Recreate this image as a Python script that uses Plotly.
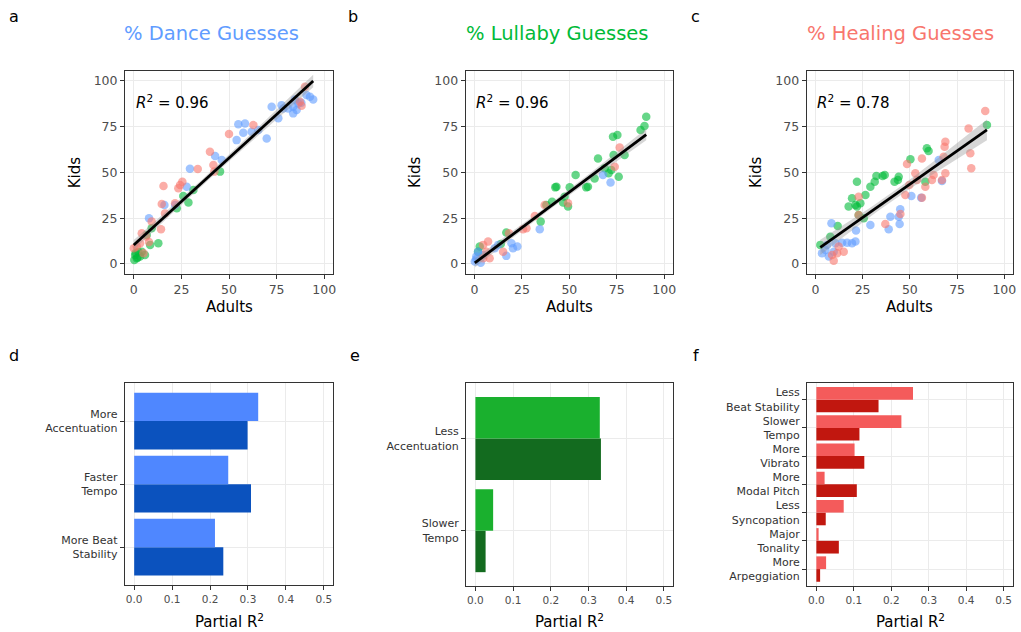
import numpy as np
import plotly.graph_objects as go

# ---------------- data ----------------
# Panel a: % Dance guesses (Adults vs Kids)
a_dance_x = [90.7, 94.2, 92.5, 86.4, 83.7, 81.1, 78.5, 77.6, 75.9, 83.7, 72.4, 69.8, 58.4, 54.9, 57.5, 54.0, 61.9, 65.4, 46.2, 42.7, 29.5, 27.8, 21.7, 16.1, 8.0, 84.6, 88.0, 85.5]
a_dance_y = [92.2, 89.8, 91.3, 87.6, 85.8, 84.9, 84.9, 86.7, 79.5, 82.2, 85.8, 68.5, 76.7, 76.2, 71.6, 67.6, 72.2, 73.1, 56.7, 58.9, 52.0, 42.2, 32.2, 32.2, 24.9, 89.8, 88.0, 84.0]
a_healing_x = [89.9, 88.1, 87.2, 62.8, 50.0, 40.0, 41.8, 33.6, 42.3, 25.5, 24.3, 15.6, 23.4, 21.7, 14.7, 16.4, 14.3, 9.4, 4.2, 1.6, 3.3, 5.1, 0.0, 8.0, 6.5]
a_healing_y = [96.7, 86.4, 88.5, 75.8, 70.9, 61.3, 54.0, 51.8, 50.4, 44.9, 43.1, 42.5, 41.3, 33.1, 32.7, 27.6, 18.9, 23.1, 16.7, 9.5, 11.3, 5.8, 8.5, 12.0, 15.0]
a_lullaby_x = [45.3, 31.3, 28.7, 26.0, 22.6, 9.4, 12.9, 8.6, 6.8, 2.4, 0.7, 1.6, 3.3, 4.2, 5.9, 0.3, 1.0, 2.0]
a_lullaby_y = [50.4, 40.4, 33.5, 37.1, 30.4, 19.5, 11.3, 10.4, 15.8, 6.7, 4.9, 3.1, 4.0, 6.7, 4.9, 2.2, 6.0, 3.5]

# Panel b: % Lullaby guesses
b_lullaby_x = [90.5, 89.6, 87.5, 75.3, 73.0, 79.1, 73.3, 65.1, 68.6, 72.1, 76.0, 70.7, 63.3, 53.3, 50.2, 43.2, 42.6, 59.8, 58.9, 47.5, 40.9, 37.9, 49.3, 46.7, 34.9, 16.8, 13.9, 2.8, 1.9]
b_lullaby_y = [80.4, 75.3, 73.1, 70.4, 69.5, 59.5, 59.5, 57.6, 52.2, 51.3, 47.6, 49.5, 46.7, 48.5, 41.8, 42.2, 41.8, 42.2, 41.8, 36.7, 34.0, 32.2, 31.3, 33.5, 23.1, 17.1, 10.9, 9.5, 6.7]
b_healing_x = [76.5, 73.9, 49.3, 37.0, 31.8, 27.4, 25.6, 18.2, 7.2, 4.6, 6.3, 8.0, 4.6, 15.1]
b_healing_y = [63.6, 53.1, 33.1, 32.2, 26.2, 19.5, 18.9, 16.7, 12.2, 10.4, 6.7, 3.1, 3.1, 6.7]
b_dance_x = [71.7, 67.7, 34.4, 22.6, 19.5, 20.3, 16.8, 12.5, 10.7, 1.9, 1.0, 0.2, 3.3, 4.6, 1.0]
b_dance_y = [44.4, 48.5, 18.9, 9.5, 11.3, 8.5, 4.4, 10.4, 8.5, 6.7, 4.0, 1.3, 0.7, 4.9, 2.5]

# Panel c: % Healing guesses
c_healing_x = [89.9, 81.1, 82.0, 82.5, 68.8, 68.4, 67.9, 68.8, 67.0, 62.6, 61.7, 56.4, 48.5, 52.9, 53.8, 49.7, 58.2, 56.4, 47.6, 45.0, 37.0, 22.9, 22.9, 12.3, 11.5, 15.0, 9.7, 8.8]
c_healing_y = [83.5, 74.0, 60.4, 52.2, 66.7, 64.0, 58.5, 49.5, 45.8, 48.5, 45.8, 57.6, 54.5, 49.5, 45.8, 43.1, 42.2, 36.2, 37.6, 27.3, 21.8, 36.7, 26.7, 9.5, 5.8, 6.7, 1.8, 4.9]
c_lullaby_x = [90.8, 59.0, 59.9, 50.3, 58.2, 44.1, 43.7, 41.9, 36.7, 35.6, 32.3, 31.4, 29.1, 22.0, 26.5, 19.4, 17.6, 21.2, 23.8, 25.6, 22.0, 11.8, 7.9, 2.6, 22.9]
c_lullaby_y = [75.8, 63.1, 61.6, 57.1, 44.9, 47.6, 45.8, 44.9, 48.5, 48.0, 48.0, 44.9, 42.2, 44.9, 37.6, 35.8, 31.3, 32.2, 33.1, 24.9, 31.3, 20.7, 14.9, 10.4, 26.7]
c_dance_x = [65.3, 67.0, 50.8, 56.0, 44.9, 44.1, 39.7, 44.6, 38.8, 29.1, 8.5, 21.5, 21.2, 19.4, 16.8, 14.1, 10.6, 5.3, 3.5, 7.1, 9.7, 6.2]
c_dance_y = [56.7, 45.3, 37.1, 36.2, 29.8, 25.8, 25.8, 21.8, 18.9, 21.3, 22.2, 18.2, 12.2, 11.3, 11.6, 11.6, 11.3, 7.6, 5.8, 4.0, 6.7, 10.4]

r2_labels = ["0.96", "0.96", "0.78"]
scatter_titles = ["% Dance Guesses", "% Lullaby Guesses", "% Healing Guesses"]
scatter_ticks = [0, 25, 50, 75, 100]

# Panel d
d_features = ["More<br>Accentuation", "Faster<br>Tempo", "More Beat<br>Stability"]
d_light = [0.327, 0.248, 0.213]
d_dark = [0.299, 0.308, 0.235]
# Panel e
e_features = ["Less<br>Accentuation", "Slower<br>Tempo"]
e_light = [0.330, 0.047]
e_dark = [0.333, 0.027]
# Panel f
f_features = ["Less<br>Beat Stability", "Slower<br>Tempo", "More<br>Vibrato", "More<br>Modal Pitch",
              "Less<br>Syncopation", "Major<br>Tonality", "More<br>Arpeggiation"]
f_light = [0.258, 0.227, 0.102, 0.022, 0.073, 0.006, 0.026]
f_dark = [0.166, 0.115, 0.128, 0.108, 0.025, 0.060, 0.010]
bar_ticks = [0.0, 0.1, 0.2, 0.3, 0.4, 0.5]

# ---------------- styling ----------------
W, H = 1021, 632
def px(x): return x / W
def py(y): return 1 - y / H

COL = {"dance": "#619CFF", "lullaby": "#00BA38", "healing": "#F8766D"}
TITLE_COL = ["#619CFF", "#00BA38", "#F8766D"]
BAR_COL = [("#4F87FF", "#0B52BE"), ("#1AB02E", "#136B1F"), ("#F45B5B", "#C1170F")]
FONT = "DejaVu Sans, Liberation Sans, Arial, sans-serif"
GRID = "#EBEBEB"
FRAME = "#333333"

scatter_dom = [((125, 333), (70.7, 274)), ((465.7, 673), (70.7, 274)), ((806.7, 1013), (70.7, 274))]
bar_dom = [((124.7, 333.3), (383.3, 585)), ((466, 673.3), (383.3, 586)), ((807, 1013), (382.7, 586))]

fig = go.Figure()

scatter_sets = [
    [("lullaby", a_lullaby_x, a_lullaby_y), ("dance", a_dance_x, a_dance_y), ("healing", a_healing_x, a_healing_y)],
    [("lullaby", b_lullaby_x, b_lullaby_y), ("dance", b_dance_x, b_dance_y), ("healing", b_healing_x, b_healing_y)],
    [("lullaby", c_lullaby_x, c_lullaby_y), ("dance", c_dance_x, c_dance_y), ("healing", c_healing_x, c_healing_y)],
]

for i, sets in enumerate(scatter_sets):
    xa = "x" if i == 0 else f"x{i+1}"
    ya = "y" if i == 0 else f"y{i+1}"
    for name, xs, ys in sets:
        fig.add_trace(go.Scatter(x=xs, y=ys, mode="markers", xaxis=xa, yaxis=ya,
                                 marker=dict(color=COL[name], size=8.5, opacity=0.6, line=dict(width=0)),
                                 showlegend=False, hoverinfo="skip"))
    allx = np.concatenate([np.array(s[1], float) for s in sets])
    ally = np.concatenate([np.array(s[2], float) for s in sets])
    b1, b0 = np.polyfit(allx, ally, 1)
    n = len(allx)
    resid = ally - (b0 + b1 * allx)
    s = np.sqrt(np.sum(resid ** 2) / (n - 2))
    xm = allx.mean()
    sxx = np.sum((allx - xm) ** 2)
    xg = np.linspace(allx.min(), allx.max(), 80)
    yg = b0 + b1 * xg
    se = s * np.sqrt(1 / n + (xg - xm) ** 2 / sxx)
    tq = 1.99
    fig.add_trace(go.Scatter(x=np.concatenate([xg, xg[::-1]]),
                             y=np.concatenate([yg + tq * se, (yg - tq * se)[::-1]]),
                             fill="toself", fillcolor="rgba(153,153,153,0.4)", line=dict(width=0),
                             mode="lines", xaxis=xa, yaxis=ya, showlegend=False, hoverinfo="skip"))
    fig.add_trace(go.Scatter(x=xg, y=yg, mode="lines", line=dict(color="black", width=2.8),
                             xaxis=xa, yaxis=ya, showlegend=False, hoverinfo="skip"))

bar_sets = [(d_features, d_light, d_dark), (e_features, e_light, e_dark), (f_features, f_light, f_dark)]
for j, (feats, light, dark) in enumerate(bar_sets):
    k = j + 4
    xa, ya = f"x{k}", f"y{k}"
    fig.add_trace(go.Bar(x=dark, y=feats, orientation="h", xaxis=xa, yaxis=ya,
                         marker=dict(color=BAR_COL[j][1], line=dict(width=0)), showlegend=False, hoverinfo="skip"))
    fig.add_trace(go.Bar(x=light, y=feats, orientation="h", xaxis=xa, yaxis=ya,
                         marker=dict(color=BAR_COL[j][0], line=dict(width=0)), showlegend=False, hoverinfo="skip"))

layout = dict(width=W, height=H, margin=dict(l=0, r=0, t=0, b=0),
              paper_bgcolor="white", plot_bgcolor="white", template="none",
              barmode="group", bargap=0.1, bargroupgap=0, font=dict(family=FONT))

common = dict(showgrid=True, gridcolor=GRID, gridwidth=1, zeroline=False, showline=True,
              linecolor=FRAME, linewidth=1, mirror=True, ticks="outside", ticklen=4,
              tickcolor=FRAME, tickwidth=1)

for i, ((x0, x1), (y0, y1)) in enumerate(scatter_dom):
    sfx = "" if i == 0 else str(i + 1)
    layout["xaxis" + sfx] = dict(common, domain=[px(x0), px(x1)], anchor="y" + sfx,
                                 range=[-4.6, 104.6], tickvals=scatter_ticks,
                                 tickfont=dict(size=12.5, color="#4D4D4D"))
    layout["yaxis" + sfx] = dict(common, domain=[py(y1), py(y0)], anchor="x" + sfx,
                                 range=[-5.5, 105.5], tickvals=scatter_ticks,
                                 tickfont=dict(size=12.5, color="#4D4D4D"))

for j, ((x0, x1), (y0, y1)) in enumerate(bar_dom):
    sfx = str(j + 4)
    feats = bar_sets[j][0]
    layout["xaxis" + sfx] = dict(common, domain=[px(x0), px(x1)], anchor="y" + sfx,
                                 range=[-0.025, 0.525], tickvals=bar_ticks, tickformat=".1f",
                                 tickfont=dict(size=10.5, color="#4D4D4D"))
    layout["yaxis" + sfx] = dict(common, domain=[py(y1), py(y0)], anchor="x" + sfx,
                                 type="category", categoryorder="array", categoryarray=feats[::-1],
                                 range=[-0.6, len(feats) - 0.4],
                                 tickfont=dict(size=11, color="#333333"))

fig.update_layout(**layout)

ann = []
letters = [("a", 14, 16), ("b", 353, 16), ("c", 695, 16), ("d", 14, 355), ("e", 355, 355), ("f", 696, 355)]
for t, x, y in letters:
    ann.append(dict(text=t, x=px(x), y=py(y), xref="paper", yref="paper", showarrow=False,
                    font=dict(size=16, color="black"), xanchor="center", yanchor="middle"))

title_x = [211.7, 556.7, 900.8]
for i, t in enumerate(scatter_titles):
    ann.append(dict(text=t, x=px(title_x[i]), y=py(33), xref="paper", yref="paper", showarrow=False,
                    font=dict(size=19.5, color=TITLE_COL[i]), xanchor="center", yanchor="middle"))

for i, ((x0, x1), (y0, y1)) in enumerate(scatter_dom):
    ann.append(dict(text="Adults", x=px((x0 + x1) / 2), y=py(307), xref="paper", yref="paper",
                    showarrow=False, font=dict(size=15, color="black"), xanchor="center", yanchor="middle"))
    ann.append(dict(text="Kids", x=px(x0 - 50), y=py((y0 + y1) / 2), xref="paper", yref="paper",
                    showarrow=False, textangle=-90, font=dict(size=15, color="black"),
                    xanchor="center", yanchor="middle"))
    sfx = "" if i == 0 else str(i + 1)
    ann.append(dict(text="<i>R</i><sup>2</sup> = " + r2_labels[i], x=0, y=88.4,
                    xref="x" + sfx, yref="y" + sfx, showarrow=False,
                    font=dict(size=15, color="black"), xanchor="left", yanchor="middle"))

for j, ((x0, x1), (y0, y1)) in enumerate(bar_dom):
    ann.append(dict(text="Partial R<sup>2</sup>", x=px((x0 + x1) / 2), y=py(621), xref="paper", yref="paper",
                    showarrow=False, font=dict(size=15, color="black"), xanchor="center", yanchor="middle"))

fig.update_layout(annotations=ann)
fig.write_html("out.html", config={"displayModeBar": False},
               post_script="document.body.style.margin='0px';document.body.style.overflow='hidden';")
